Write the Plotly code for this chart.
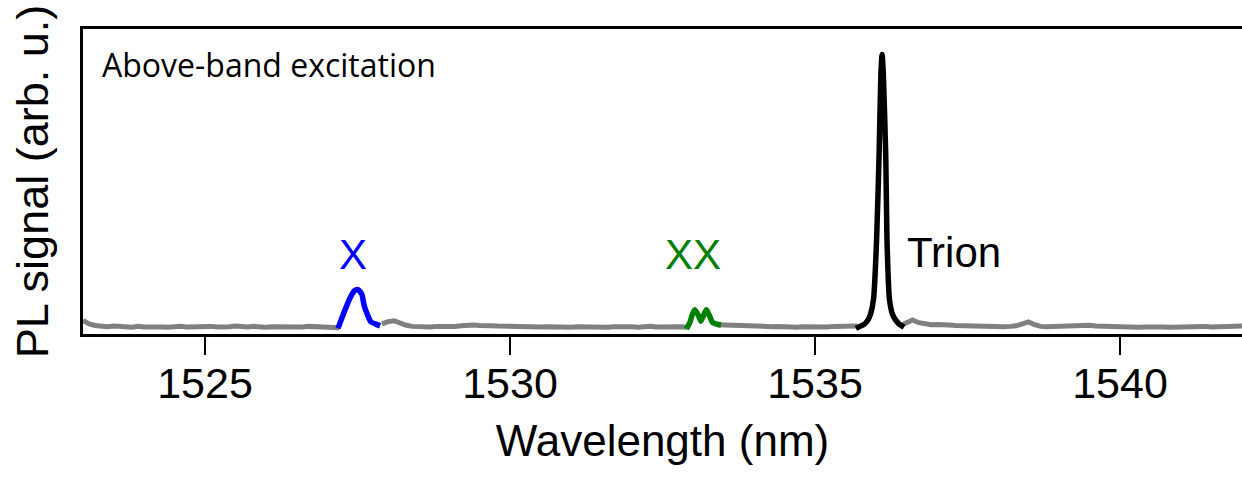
import numpy as np
import plotly.graph_objects as go

# ---- PL spectrum (above-band excitation), arbitrary units ----
# Background (grey) segments sampled every 0.1 nm
bg_a_start, bg_a_vals = 1523.0, [
    0.048, 0.036, 0.030, 0.027, 0.026, 0.028, 0.025, 0.026, 0.024, 0.027,
    0.025, 0.026, 0.028, 0.025, 0.024, 0.026, 0.027, 0.025, 0.026, 0.024,
    0.026, 0.027, 0.025, 0.024, 0.026, 0.028, 0.026, 0.025, 0.027, 0.025,
    0.024, 0.026, 0.025, 0.027, 0.026, 0.024, 0.025, 0.027, 0.026, 0.025,
    0.026, 0.024, 0.022]
bg_b_start, bg_b_vals = 1527.9, [
    0.036, 0.044, 0.047, 0.038, 0.031, 0.027, 0.025, 0.026, 0.025, 0.027,
    0.026, 0.028, 0.027, 0.029, 0.031, 0.032, 0.030, 0.031, 0.029, 0.028,
    0.027, 0.026, 0.027, 0.025, 0.026, 0.024, 0.025, 0.026, 0.025, 0.027,
    0.025, 0.024, 0.026, 0.025, 0.027, 0.026, 0.025, 0.024, 0.026, 0.027,
    0.025, 0.026, 0.024, 0.026, 0.027, 0.025, 0.026, 0.027, 0.025, 0.026,
    0.024]
bg_c_start, bg_c_vals = 1533.4, [
    0.033, 0.032, 0.030, 0.029, 0.027, 0.028, 0.026, 0.027, 0.025, 0.026,
    0.027, 0.025, 0.026, 0.024, 0.026, 0.025, 0.027, 0.026, 0.025, 0.027,
    0.028, 0.030, 0.031, 0.028]
bg_d_start, bg_d_vals = 1536.4, [
    0.030, 0.040, 0.050, 0.040, 0.036, 0.033, 0.034, 0.031, 0.032, 0.030,
    0.029, 0.030, 0.028, 0.027, 0.028, 0.026, 0.027, 0.026, 0.027, 0.029,
    0.036, 0.043, 0.033, 0.027, 0.026, 0.027, 0.026, 0.028, 0.027, 0.029,
    0.030, 0.031, 0.028, 0.027, 0.026, 0.025, 0.026, 0.025, 0.026, 0.024,
    0.025, 0.026, 0.024, 0.025, 0.024, 0.025, 0.026, 0.025, 0.027, 0.026,
    0.027, 0.025, 0.026, 0.027, 0.026, 0.027, 0.028]
bg_step = 0.1

# Exciton (X)
x_wl = [1527.18, 1527.28, 1527.37, 1527.45, 1527.51, 1527.57, 1527.61,
        1527.67, 1527.72, 1527.80, 1527.87]
x_pl = [0.020, 0.077, 0.124, 0.153, 0.157, 0.141, 0.100, 0.065, 0.043,
        0.035, 0.029]

# Biexciton (XX)
xx_wl = [1532.89, 1532.95, 1532.99, 1533.03, 1533.09, 1533.13, 1533.18,
         1533.22, 1533.27, 1533.32, 1533.39, 1533.46]
xx_pl = [0.018, 0.041, 0.070, 0.086, 0.065, 0.045, 0.070, 0.086, 0.065,
         0.041, 0.035, 0.032]

# Trion
tr_wl = [1535.67, 1535.75, 1535.81, 1535.87, 1535.91, 1535.96, 1536.01,
         1536.05, 1536.08, 1536.10, 1536.12, 1536.16, 1536.18, 1536.22,
         1536.27, 1536.32, 1536.38, 1536.46]
tr_pl = [0.020, 0.028, 0.035, 0.050, 0.070, 0.124, 0.335, 0.630, 0.920,
         0.990, 0.920, 0.630, 0.335, 0.124, 0.070, 0.050, 0.035, 0.024]

x_ticks = [1525, 1530, 1535, 1540]
x_range = [1523.0, 1542.0]
y_range = [0.0, 1.08]

GREY, BLUE, GREEN, BLACK = "#808080", "#0000ff", "#008000", "#000000"

fig = go.Figure()

for start, vals in [(bg_a_start, bg_a_vals), (bg_b_start, bg_b_vals),
                    (bg_c_start, bg_c_vals), (bg_d_start, bg_d_vals)]:
    wl = np.round(start + bg_step * np.arange(len(vals)), 2)
    fig.add_trace(go.Scatter(x=wl, y=vals, mode="lines",
                             line=dict(color=GREY, width=5),
                             showlegend=False, hoverinfo="skip"))

for wl, pl, col in [(x_wl, x_pl, BLUE), (xx_wl, xx_pl, GREEN),
                    (tr_wl, tr_pl, BLACK)]:
    fig.add_trace(go.Scatter(x=wl, y=pl, mode="lines",
                             line=dict(color=col, width=5.5, shape="spline",
                                       smoothing=0.6),
                             showlegend=False))

label_font = "Liberation Sans, Arial, sans-serif"
fig.add_annotation(x=1527.43, y=0.28, text="X", showarrow=False,
                   font=dict(family=label_font, size=42, color=BLUE),
                   xanchor="center", yanchor="middle")
fig.add_annotation(x=1533.0, y=0.28, text="XX", showarrow=False,
                   font=dict(family=label_font, size=42, color=GREEN),
                   xanchor="center", yanchor="middle")
fig.add_annotation(x=1536.48, y=0.29, text="Trion", showarrow=False,
                   font=dict(family=label_font, size=42, color=BLACK),
                   xanchor="left", yanchor="middle")
fig.add_annotation(x=0.0147, y=0.884, xref="paper", yref="paper",
                   text="Above-band excitation", showarrow=False,
                   font=dict(family="Open Sans, sans-serif", size=32,
                             color=BLACK),
                   xanchor="left", yanchor="middle")

fig.update_layout(
    width=1242, height=477,
    margin=dict(l=83, r=0, t=29, b=143),
    paper_bgcolor="white", plot_bgcolor="white",
    font=dict(family=label_font, color="black"),
    xaxis=dict(range=x_range, tickvals=x_ticks, ticks="outside",
               ticklen=18, tickwidth=2, tickcolor="black",
               tickfont=dict(size=43), ticklabelstandoff=-8,
               showgrid=False, zeroline=False,
               showline=True, linecolor="black", linewidth=2.5, mirror=True,
               title=dict(text="Wavelength (nm)", font=dict(size=44),
                          standoff=19)),
    yaxis=dict(range=y_range, showticklabels=False, ticks="",
               showgrid=False, zeroline=False, showline=True,
               linecolor="black", linewidth=2.5,
               title=dict(text="PL signal (arb. u.)", font=dict(size=45),
                          standoff=18)),
)

fig.write_html("out.html")
